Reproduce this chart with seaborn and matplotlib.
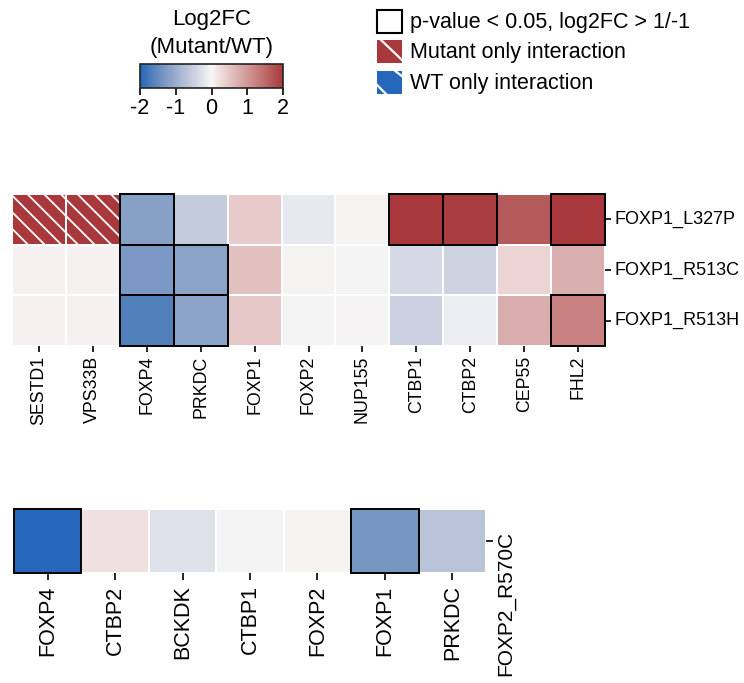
import numpy as np
import pandas as pd
import matplotlib
matplotlib.use("Agg")
import matplotlib.pyplot as plt
import seaborn as sns
from matplotlib.colors import LinearSegmentedColormap, Normalize
from matplotlib.patches import Rectangle
from matplotlib.lines import Line2D
from matplotlib.cm import ScalarMappable
from matplotlib.transforms import ScaledTranslation

# ---------------- data ----------------
top_genes = ["SESTD1", "VPS33B", "FOXP4", "PRKDC", "FOXP1", "FOXP2",
             "NUP155", "CTBP1", "CTBP2", "CEP55", "FHL2"]
top_variants = ["FOXP1_L327P", "FOXP1_R513C", "FOXP1_R513H"]
l327p = [2.0, 2.0, -1.20, -0.57, 0.45, -0.17, 0.04, 2.0, 1.95, 1.66, 2.0]
r513c = [0.05, 0.05, -1.30, -1.16, 0.57, 0.04, -0.03, -0.38, -0.46, 0.34, 0.76]
r513h = [0.05, 0.05, -1.66, -1.16, 0.48, -0.03, 0.03, -0.49, -0.12, 0.78, 1.26]
top_significant = [("FOXP1_L327P", "FOXP4"), ("FOXP1_L327P", "CTBP1"),
                   ("FOXP1_L327P", "CTBP2"), ("FOXP1_L327P", "FHL2"),
                   ("FOXP1_R513C", "FOXP4"), ("FOXP1_R513C", "PRKDC"),
                   ("FOXP1_R513H", "FOXP4"), ("FOXP1_R513H", "PRKDC"),
                   ("FOXP1_R513H", "FHL2")]
top_mutant_only = [("FOXP1_L327P", "SESTD1"), ("FOXP1_L327P", "VPS33B")]

bottom_genes = ["FOXP4", "CTBP2", "BCKDK", "CTBP1", "FOXP2", "FOXP1", "PRKDC"]
bottom_variant = "FOXP2_R570C"
r570c = [-2.0, 0.22, -0.28, -0.03, 0.04, -1.33, -0.67]
bottom_significant = [(bottom_variant, "FOXP4"), (bottom_variant, "FOXP1")]

cbar_ticks = [-2, -1, 0, 1, 2]
cbar_title = "Log2FC\n(Mutant/WT)"
legend_labels = ["p-value < 0.05, log2FC > 1/-1",
                 "Mutant only interaction",
                 "WT only interaction"]

# diverging ramp: log2FC stop -> colour
ramp_values = [-2.0, -1.66, -1.2, -0.57, 0.0, 0.34, 0.76, 1.26, 1.66, 2.0]
ramp_colors = ["#2667BB", "#5280BB", "#87A0C6", "#C4CBDC", "#F6F6F6",
               "#EDD4D4", "#DAAFAF", "#C98080", "#B55A5A", "#A8383B"]
LOW, HIGH = ramp_colors[0], ramp_colors[-1]

vmin, vmax = ramp_values[0], ramp_values[-1]
cmap = LinearSegmentedColormap.from_list(
    "log2fc", [((v - vmin) / (vmax - vmin), c) for v, c in zip(ramp_values, ramp_colors)],
    N=512)
norm = Normalize(vmin=vmin, vmax=vmax)

# ---------------- figure ----------------
sns.set_theme(style="white")
plt.rcParams["font.family"] = ["Liberation Sans", "DejaVu Sans"]
plt.rcParams["axes.unicode_minus"] = False
plt.rcParams["hatch.linewidth"] = 1.3
for key in ("text.color", "axes.labelcolor", "xtick.color", "ytick.color"):
    plt.rcParams[key] = "black"

W, H = 744, 683
fig = plt.figure(figsize=(W / 100, H / 100), dpi=100)


def px_axes(x0, y0, x1, y1):
    return fig.add_axes([x0 / W, 1 - y1 / H, (x1 - x0) / W, (y1 - y0) / H])


def outline_cells(ax, df, cells, **kw):
    for row, col in cells:
        i, j = df.index.get_loc(row), df.columns.get_loc(col)
        ax.add_patch(Rectangle((j, i), 1, 1, **kw))


# top heatmap
top_df = pd.DataFrame([l327p, r513c, r513h], index=top_variants, columns=top_genes)
ax1 = px_axes(12, 194, 605, 346)
sns.heatmap(top_df, ax=ax1, cmap=cmap, norm=norm, cbar=False,
            linewidths=1.2, linecolor="white")
outline_cells(ax1, top_df, top_mutant_only, facecolor="none",
              edgecolor="white", hatch="\\\\", lw=0, zorder=4)
outline_cells(ax1, top_df, top_significant, fill=False,
              edgecolor="black", lw=1.4, zorder=5, clip_on=False)
ax1.yaxis.tick_right()
ax1.tick_params(axis="both", length=4, width=1.2, color="black",
                labelsize=12.8, pad=3, right=True, bottom=True, left=False)
ax1.tick_params(axis="y", labelsize=13)
plt.setp(ax1.get_xticklabels(), rotation=90)
plt.setp(ax1.get_yticklabels(), rotation=0, va="center")
ax1.set_xlabel("")
ax1.set_ylabel("")

# bottom heatmap
bottom_df = pd.DataFrame([r570c], index=[bottom_variant], columns=bottom_genes)
ax2 = px_axes(14, 509, 486, 573)
sns.heatmap(bottom_df, ax=ax2, cmap=cmap, norm=norm, cbar=False,
            linewidths=1.2, linecolor="white")
outline_cells(ax2, bottom_df, bottom_significant, fill=False,
              edgecolor="black", lw=1.4, zorder=5, clip_on=False)
ax2.yaxis.tick_right()
ax2.tick_params(axis="both", length=5, width=1.2, color="black",
                labelsize=15.5, pad=4, right=True, bottom=True, left=False)
plt.setp(ax2.get_xticklabels(), rotation=90)
for lab in ax2.get_yticklabels():
    lab.set_rotation(90)
    lab.set_va("top")
    lab.set_ha("left")
    lab.set_fontsize(15)
    lab.set_transform(lab.get_transform() +
                      ScaledTranslation(-2 / 100, 10 / 100, fig.dpi_scale_trans))
ax2.set_xlabel("")
ax2.set_ylabel("")

# colour bar
cax = px_axes(140, 64, 283, 88)
cb = fig.colorbar(ScalarMappable(norm=norm, cmap=cmap), cax=cax,
                  orientation="horizontal", ticks=cbar_ticks)
cb.outline.set_linewidth(1.2)
cb.outline.set_edgecolor("#222222")
cax.tick_params(length=5, width=1.2, color="black", labelsize=15.5, pad=2)
cax.set_title(cbar_title, fontsize=16, pad=8, linespacing=1.45)

# legend, laid out in pixel units
leg = fig.add_axes([0, 0, 1, 1])
leg.set_xlim(0, W)
leg.set_ylim(H, 0)
leg.axis("off")
kx, kw, kh = 377, 25, 23
rows_top = [10, 40, 71]
fills = ["white", HIGH, LOW]
for top, fc, label in zip(rows_top, fills, legend_labels):
    box = Rectangle((kx, top), kw, kh, facecolor=fc,
                    edgecolor="black" if fc == "white" else "none", lw=1.5)
    leg.add_patch(box)
    leg.text(410, top + kh / 2 + 1, label, fontsize=15.5, va="center", ha="left")

# white stripes on the red and blue keys
stripe_sets = [
    [((kx + 3, rows_top[1] - 1), (kx + kw + 1, rows_top[1] + kh - 2))],
    [((kx - 1, rows_top[2] + kh - 10), (kx + 10, rows_top[2] + kh + 1)),
     ((kx + kw - 8, rows_top[2] - 1), (kx + kw + 1, rows_top[2] + 6))],
]
for top, stripes in zip(rows_top[1:], stripe_sets):
    clip = Rectangle((kx, top), kw, kh, transform=leg.transData, visible=False)
    leg.add_patch(clip)
    for (xa, ya), (xb, yb) in stripes:
        ln = Line2D([xa, xb], [ya, yb], color="white", lw=1.6)
        leg.add_line(ln)
        ln.set_clip_path(clip)

fig.savefig("out.png", dpi=100)
